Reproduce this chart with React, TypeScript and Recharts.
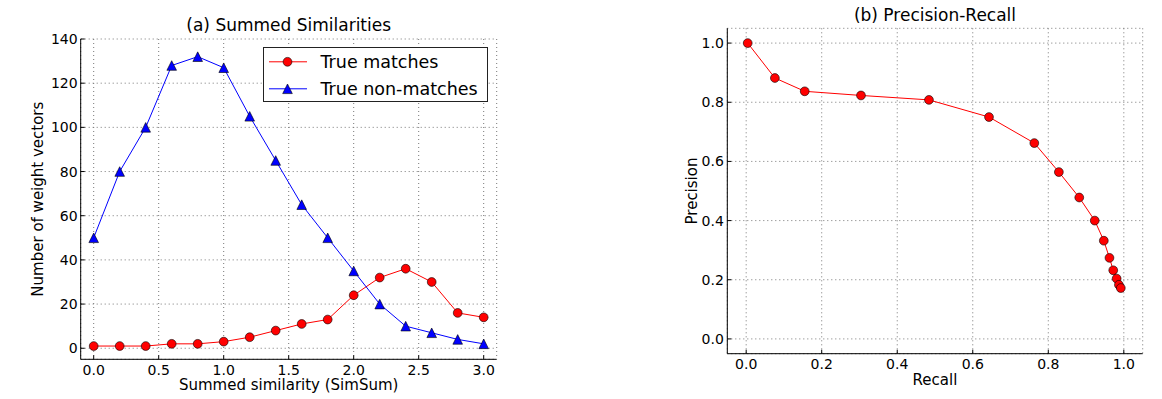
import React from "react";
import {
  LineChart,
  Line,
  XAxis,
  YAxis,
  CartesianGrid,
  Legend,
} from "recharts";

// (a) summed similarity histogram
const simSum = [0, 0.2, 0.4, 0.6, 0.8, 1.0, 1.2, 1.4, 1.6, 1.8, 2.0, 2.2, 2.4, 2.6, 2.8, 3.0];
const trueMatches = [1, 1, 1, 2, 2, 3, 5, 8, 11, 13, 24, 32, 36, 30, 16, 14];
const trueNonMatches = [50, 80, 100, 128, 132, 127, 105, 85, 65, 50, 35, 20, 10, 7, 4, 2];
const simTicksX = [0, 0.5, 1.0, 1.5, 2.0, 2.5, 3.0];
const simTicksY = [0, 20, 40, 60, 80, 100, 120, 140];

// (b) precision-recall curve
const recall = [0.004, 0.076, 0.155, 0.304, 0.484, 0.643, 0.763, 0.828, 0.882, 0.923, 0.947, 0.962, 0.972, 0.981, 0.987, 0.992];
const precision = [1.0, 0.882, 0.837, 0.823, 0.808, 0.75, 0.662, 0.564, 0.478, 0.4, 0.332, 0.274, 0.232, 0.204, 0.183, 0.172];
const prTicks = [0, 0.2, 0.4, 0.6, 0.8, 1.0];

const titles = ["(a) Summed Similarities", "(b) Precision-Recall"];

const simData = simSum.map((s, i) => ({
  s,
  matches: trueMatches[i],
  nonMatches: trueNonMatches[i],
}));
const prData = recall.map((r, i) => ({ r, p: precision[i] }));

const FONT = "'DejaVu Sans', sans-serif";
const fix1 = (v: number) => v.toFixed(1);
const int = (v: number) => String(v);

// matplotlib style ticks: marks point into the plot
const BottomTick = ({ x, y, payload, gap, fmt }: any) => (
  <g>
    <line x1={x} x2={x} y1={y - gap} y2={y - gap - 4} stroke="#000" />
    <text x={x} y={y} dy="0.71em" textAnchor="middle" fontSize={14} fill="#000">
      {fmt(payload.value)}
    </text>
  </g>
);

const LeftTick = ({ x, y, payload, gap, fmt }: any) => (
  <g>
    <line x1={x + gap} x2={x + gap + 4} y1={y} y2={y} stroke="#000" />
    <text x={x} y={y} dy="0.36em" textAnchor="end" fontSize={14} fill="#000">
      {fmt(payload.value)}
    </text>
  </g>
);

const TopTick = ({ x, y }: any) => (
  <line x1={x} x2={x} y1={y} y2={y + 4} stroke="#000" />
);

const RightTick = ({ x, y }: any) => (
  <line x1={x} x2={x - 4} y1={y} y2={y} stroke="#000" />
);

const YTitle = ({ viewBox, text, cx }: any) => {
  const cy = viewBox.y + viewBox.height / 2;
  return (
    <text
      x={cx}
      y={cy}
      transform={`rotate(-90 ${cx} ${cy})`}
      textAnchor="middle"
      dominantBaseline="central"
      fontSize={15}
      fill="#000"
    >
      {text}
    </text>
  );
};

const Triangle = ({ cx, cy }: any) => {
  if (cx == null || cy == null) return null;
  const h = 4.8;
  return (
    <path
      d={`M${cx},${cy - h}L${cx - h},${cy + h}L${cx + h},${cy + h}Z`}
      fill="#0000ff"
      stroke="#000"
      strokeWidth={0.6}
    />
  );
};

const SimLegend = () => (
  <svg width={226} height={56} style={{ display: "block", fontFamily: FONT }}>
    <rect x={0.5} y={0.5} width={224} height={54} fill="#fff" stroke="#222" />
    <line x1={6} x2={44} y1={14.8} y2={14.8} stroke="#ff0000" />
    <circle cx={24.5} cy={14.8} r={4.4} fill="#ff0000" stroke="#000" strokeWidth={0.6} />
    <text x={57.5} y={14.8} dominantBaseline="central" fontSize={17.5} fill="#000">
      True matches
    </text>
    <line x1={6} x2={44} y1={41.8} y2={41.8} stroke="#0000ff" />
    <Triangle cx={24.5} cy={41.8} />
    <text x={57.5} y={41.8} dominantBaseline="central" fontSize={17.5} fill="#000">
      True non-matches
    </text>
  </svg>
);

const grid = <CartesianGrid stroke="#777" strokeDasharray="1 3" strokeWidth={1} />;

export default function App() {
  return (
    <div
      style={{
        position: "absolute",
        left: 0,
        top: 0,
        width: 1162,
        height: 399,
        background: "#fff",
        fontFamily: FONT,
      }}
    >
      <div style={{ position: "absolute", left: 0, top: 0 }}>
        <LineChart
          width={520}
          height={399}
          data={simData}
          margin={{ top: 39, right: 23.3, left: 30.7, bottom: 0 }}
        >
          {grid}
          <XAxis
            dataKey="s"
            type="number"
            domain={[-0.1, 3.1]}
            ticks={simTicksX}
            interval={0}
            height={39.7}
            tickSize={0}
            tickMargin={5.5}
            tickLine={false}
            axisLine={{ stroke: "#000" }}
            tick={(p: any) => <BottomTick {...p} gap={5.5} fmt={fix1} />}
            label={{
              value: "Summed similarity (SimSum)",
              position: "insideBottom",
              offset: 9,
              fontSize: 15,
              fill: "#000",
            }}
          />
          <XAxis
            xAxisId="top"
            orientation="top"
            type="number"
            domain={[-0.1, 3.1]}
            ticks={simTicksX}
            interval={0}
            height={0}
            tickSize={0}
            tickMargin={0}
            tickLine={false}
            axisLine={{ stroke: "#000" }}
            tick={(p: any) => <TopTick {...p} />}
          />
          <YAxis
            type="number"
            domain={[-5, 140]}
            ticks={simTicksY}
            interval={0}
            width={50}
            tickSize={0}
            tickMargin={3}
            tickLine={false}
            axisLine={{ stroke: "#000" }}
            tick={(p: any) => <LeftTick {...p} gap={3} fmt={int} />}
            label={<YTitle text="Number of weight vectors" cx={38.3} />}
          />
          <YAxis
            yAxisId="right"
            orientation="right"
            type="number"
            domain={[-5, 140]}
            ticks={simTicksY}
            interval={0}
            width={0}
            tickSize={0}
            tickMargin={0}
            tickLine={false}
            axisLine={{ stroke: "#000" }}
            tick={(p: any) => <RightTick {...p} />}
          />
          <Legend
            layout="horizontal"
            align="center"
            verticalAlign="middle"
            content={() => <SimLegend />}
            wrapperStyle={{ left: 263, top: 46.5, width: 226, height: 56 }}
          />
          <Line
            dataKey="matches"
            name="True matches"
            stroke="#ff0000"
            strokeWidth={1}
            dot={{ r: 4.4, fill: "#ff0000", stroke: "#000", strokeWidth: 0.6 }}
            isAnimationActive={false}
          />
          <Line
            dataKey="nonMatches"
            name="True non-matches"
            stroke="#0000ff"
            strokeWidth={1}
            dot={(p: any) => <Triangle key={p.index} cx={p.cx} cy={p.cy} />}
            isAnimationActive={false}
          />
        </LineChart>
      </div>

      <div style={{ position: "absolute", left: 640, top: 0 }}>
        <LineChart
          width={522}
          height={399}
          data={prData}
          margin={{ top: 28.3, right: 19.3, left: 37.3, bottom: 0 }}
        >
          {grid}
          <XAxis
            dataKey="r"
            type="number"
            domain={[-0.05, 1.05]}
            ticks={prTicks}
            interval={0}
            height={45.3}
            tickSize={0}
            tickMargin={5.5}
            tickLine={false}
            axisLine={{ stroke: "#000" }}
            tick={(p: any) => <BottomTick {...p} gap={5.5} fmt={fix1} />}
            label={{
              value: "Recall",
              position: "insideBottom",
              offset: 13.7,
              fontSize: 15,
              fill: "#000",
            }}
          />
          <XAxis
            xAxisId="top"
            orientation="top"
            type="number"
            domain={[-0.05, 1.05]}
            ticks={prTicks}
            interval={0}
            height={0}
            tickSize={0}
            tickMargin={0}
            tickLine={false}
            axisLine={{ stroke: "#000" }}
            tick={(p: any) => <TopTick {...p} />}
          />
          <YAxis
            type="number"
            domain={[-0.05, 1.05]}
            ticks={prTicks}
            interval={0}
            width={50}
            tickSize={0}
            tickMargin={3.5}
            tickLine={false}
            axisLine={{ stroke: "#000" }}
            tick={(p: any) => <LeftTick {...p} gap={3.5} fmt={fix1} />}
            label={<YTitle text="Precision" cx={52.3} />}
          />
          <YAxis
            yAxisId="right"
            orientation="right"
            type="number"
            domain={[-0.05, 1.05]}
            ticks={prTicks}
            interval={0}
            width={0}
            tickSize={0}
            tickMargin={0}
            tickLine={false}
            axisLine={{ stroke: "#000" }}
            tick={(p: any) => <RightTick {...p} />}
          />
          <Line
            dataKey="p"
            stroke="#ff0000"
            strokeWidth={1}
            dot={{ r: 4.4, fill: "#ff0000", stroke: "#000", strokeWidth: 0.6 }}
            isAnimationActive={false}
          />
        </LineChart>
      </div>

      {/* chart titles */}
      <svg
        width={1162}
        height={40}
        style={{ position: "absolute", left: 0, top: 0, pointerEvents: "none" }}
      >
        <text x={288.7} y={30.5} textAnchor="middle" fontSize={17} fill="#000">
          {titles[0]}
        </text>
        <text x={935} y={21.1} textAnchor="middle" fontSize={17} fill="#000">
          {titles[1]}
        </text>
      </svg>
    </div>
  );
}
